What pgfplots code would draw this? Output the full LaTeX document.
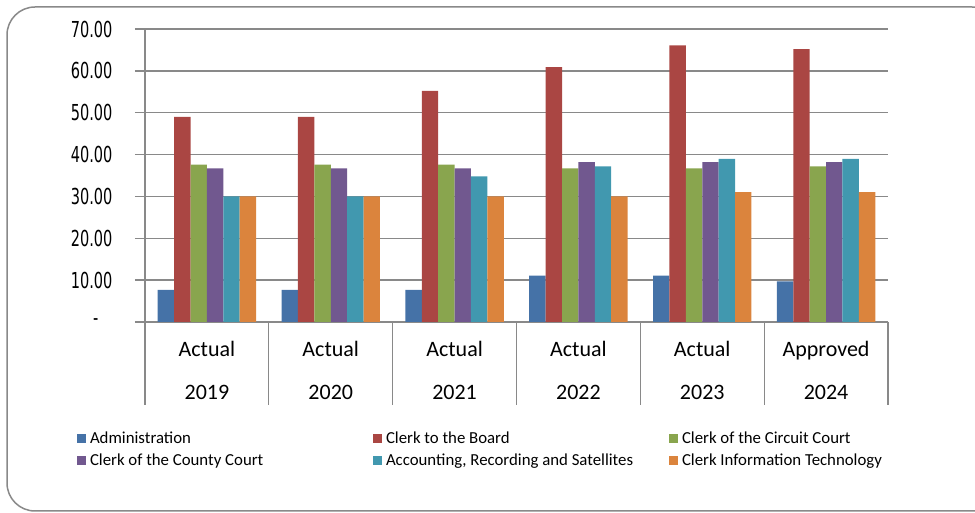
\documentclass[border=0pt]{standalone}
\usepackage{pgfplots}
\usepackage{pgfplotstable}
\pgfplotsset{compat=1.18}
\usepackage{fontspec}
\setmainfont{Carlito}
\newfontfamily\dejavu[FakeStretch=0.66]{DejaVu Sans}
\definecolor{cAdm}{HTML}{4572A7}
\definecolor{cBoard}{HTML}{AA4643}
\definecolor{cCirc}{HTML}{89A54E}
\definecolor{cCounty}{HTML}{71588F}
\definecolor{cAcc}{HTML}{4198AF}
\definecolor{cIT}{HTML}{DB843D}
\definecolor{gridgray}{HTML}{898989}

\pgfplotstableread{
x adm board circ county acc it
0 7.7 49.0 37.6 36.7 30.0 30.0
1 7.7 49.0 37.6 36.7 30.0 30.0
2 7.7 55.2 37.6 36.7 34.8 30.0
3 11.1 60.9 36.7 38.2 37.2 30.0
4 11.1 66.1 36.7 38.2 39.0 31.0
5 9.7 65.2 37.2 38.2 39.0 31.0
}\datatable

\begin{document}
\begin{tikzpicture}[x=1pt,y=1pt]
\draw[color=gridgray, line width=1.5pt, rounded corners=28pt] (7,2) rectangle (1000,506);
\begin{axis}[
  at={(145pt,191pt)}, anchor=south west,
  scale only axis, width=743pt, height=293pt,
  ymin=0, ymax=70, xmin=-0.5, xmax=5.5,
  ybar=0pt, bar width=16.4pt,
  axis x line*=bottom, axis y line*=left,
  axis line style={draw=gridgray, line width=1.3pt, -},
  ytick={0,10,20,30,40,50,60,70},
  yticklabels={-\kern14pt,10.00,20.00,30.00,40.00,50.00,60.00,70.00},
  yticklabel style={font=\dejavu\fontsize{22}{26}\selectfont, text=black, xshift=-19pt},
  ymajorgrids,
  grid style={draw=gridgray, line width=1.3pt},
  tick align=outside, major tick length=10pt,
  ytick style={draw=gridgray, line width=1.3pt},
  xtick={0,1,2,3,4,5},
  xtick style={draw=none},
  xticklabels={{Actual\\[17pt]2019},{Actual\\[17pt]2020},{Actual\\[17pt]2021},{Actual\\[17pt]2022},{Actual\\[17pt]2023},{Approved\\[17pt]2024}},
  xticklabel style={align=center, font=\fontsize{22}{26}\selectfont, text=black, yshift=-6pt},
  legend columns=3,
  legend cell align=left,
  legend style={draw=none, fill=none, inner sep=0pt, outer sep=0pt,
    anchor=west, at={(axis description cs:-0.0915,-0.4345)},
    font=\fontsize{16.8}{19}\selectfont, row sep=4.5pt},
  legend image code/.code={\fill[#1] (0pt,-4.5pt) rectangle (9pt,4.5pt); \path (11pt,0pt);},
  clip=false,
]
\addplot[fill=cAdm, draw=none] table[x=x,y=adm] {\datatable};
\addplot[fill=cBoard, draw=none] table[x=x,y=board] {\datatable};
\addplot[fill=cCirc, draw=none] table[x=x,y=circ] {\datatable};
\addplot[fill=cCounty, draw=none] table[x=x,y=county] {\datatable};
\addplot[fill=cAcc, draw=none] table[x=x,y=acc] {\datatable};
\addplot[fill=cIT, draw=none] table[x=x,y=it] {\datatable};
\legend{\makebox[281pt][l]{Administration},\makebox[281pt][l]{Clerk to the Board},\makebox[281pt][l]{Clerk of the Circuit Court},\makebox[281pt][l]{Clerk of the County Court},\makebox[281pt][l]{Accounting, Recording and Satellites},\makebox[281pt][l]{Clerk Information Technology}}
\pgfplotsinvokeforeach{-0.5,0.5,1.5,2.5,3.5,4.5,5.5}{
  \draw[gridgray, line width=1.3pt] (axis cs:#1,0) -- ([yshift=-83pt]axis cs:#1,0);
}
\end{axis}
\pgfresetboundingbox
\path[use as bounding box] (0,0) rectangle (975,513);
\end{tikzpicture}
\end{document}
